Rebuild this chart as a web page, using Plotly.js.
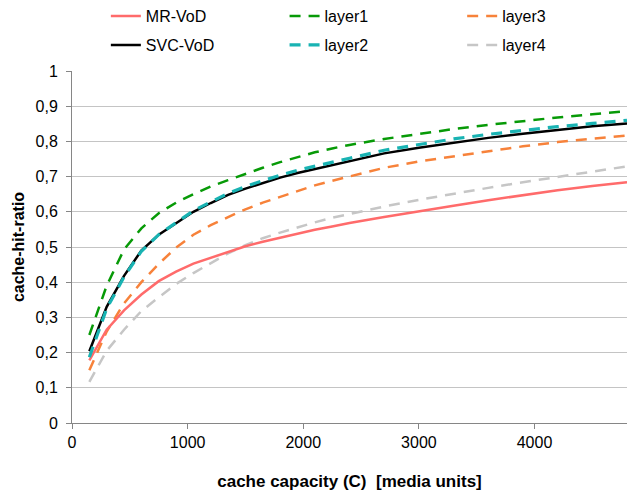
<!DOCTYPE html>
<html>
<head>
<meta charset="utf-8">
<script src="https://cdn.plot.ly/plotly-3.0.1.min.js"></script>
<style>html,body{margin:0;padding:0;background:#fff;}#chart{width:635px;height:494px;}</style>
</head>
<body>
<div id="chart"></div>
<script>
const capacity = [150,300,450,600,750,900,1050,1200,1350,1500,1650,1800,1950,2100,2250,2400,2700,3000,3300,3600,3900,4200,4500,4800];
const mrVod  = [0.178,0.265,0.32,0.365,0.403,0.43,0.453,0.47,0.487,0.502,0.515,0.527,0.538,0.549,0.558,0.568,0.585,0.60,0.617,0.633,0.648,0.661,0.673,0.684];
const svcVod = [0.204,0.33,0.418,0.49,0.535,0.568,0.60,0.625,0.648,0.666,0.682,0.697,0.71,0.721,0.732,0.742,0.766,0.782,0.797,0.81,0.822,0.833,0.843,0.851];
const layer1 = [0.25,0.39,0.493,0.553,0.596,0.626,0.65,0.672,0.69,0.708,0.725,0.741,0.755,0.769,0.78,0.79,0.807,0.822,0.835,0.847,0.858,0.868,0.877,0.886];
const layer2 = [0.187,0.325,0.415,0.488,0.535,0.57,0.603,0.628,0.652,0.672,0.689,0.704,0.718,0.73,0.741,0.752,0.775,0.792,0.807,0.82,0.832,0.842,0.851,0.86];
const layer3 = [0.15,0.26,0.34,0.40,0.452,0.498,0.535,0.562,0.585,0.607,0.626,0.643,0.66,0.675,0.688,0.70,0.725,0.743,0.758,0.772,0.786,0.798,0.808,0.817];
const layer4 = [0.117,0.205,0.265,0.318,0.357,0.395,0.426,0.455,0.482,0.505,0.525,0.541,0.556,0.57,0.583,0.594,0.615,0.634,0.652,0.668,0.684,0.699,0.714,0.729];
const xTicks = [0,1000,2000,3000,4000];

const FONT = 'Liberation Sans, Arial, sans-serif';
const DASH = '11px,8px';

function tr(name, y, color, width, dash, legend, rank) {
  return {
    type: 'scatter', mode: 'lines', name: name, x: capacity, y: y,
    line: {color: color, width: width, dash: dash},
    legend: legend, legendrank: rank, legendgroup: name
  };
}

const data = [
  tr('layer4', layer4, '#C6C6C6', 2.5, DASH, 'legend3', 2),
  tr('layer3', layer3, '#F7823A', 2.5, DASH, 'legend3', 1),
  tr('MR-VoD', mrVod, '#FF6B6B', 2.5, 'solid', 'legend', 1),
  tr('layer1', layer1, '#079A07', 2.5, DASH, 'legend2', 1),
  tr('SVC-VoD', svcVod, '#000000', 2.5, 'solid', 'legend', 2),
  tr('layer2', layer2, '#19B3B3', 3.2, DASH, 'legend2', 2)
];

const legBase = {
  orientation: 'v', yanchor: 'top', y: 1.204, xanchor: 'left',
  font: {family: FONT, size: 16, color: '#000'},
  bgcolor: 'rgba(0,0,0,0)', tracegroupgap: 5, itemwidth: 30
};

const layout = {
  width: 635, height: 494,
  margin: {l: 72, r: 8, t: 71, b: 71, autoexpand: false},
  paper_bgcolor: '#fff', plot_bgcolor: '#fff',
  separators: ',.',
  font: {family: FONT, size: 16, color: '#000'},
  showlegend: true,
  legend: Object.assign({}, legBase, {x: 0.061}),
  legend2: Object.assign({}, legBase, {x: 0.383}),
  legend3: Object.assign({}, legBase, {x: 0.703}),
  xaxis: {
    range: [0, 4800], tickvals: xTicks, ticktext: xTicks.map(String),
    showgrid: false, zeroline: false, showline: true, linecolor: '#868686', linewidth: 1,
    ticks: 'outside', ticklen: 5, tickcolor: '#868686',
    tickfont: {family: FONT, size: 16, color: '#000'},
    title: {text: '<b>cache capacity (C)  [media units]</b>', font: {family: FONT, size: 17, color: '#000'}, standoff: 24}
  },
  yaxis: {
    range: [0, 1], dtick: 0.1, tick0: 0,
    showgrid: true, gridcolor: '#C4C4C4', gridwidth: 1, zeroline: false,
    showline: true, linecolor: '#868686', linewidth: 1,
    ticks: 'outside', ticklen: 5, tickcolor: '#868686', ticklabelstandoff: 5,
    tickfont: {family: FONT, size: 16, color: '#000'},
    title: {text: '<b>cache-hit-ratio</b>', font: {family: FONT, size: 16, color: '#000'}, standoff: 6}
  }
};

Plotly.newPlot('chart', data, layout, {staticPlot: true, displayModeBar: false});
</script>
</body>
</html>
